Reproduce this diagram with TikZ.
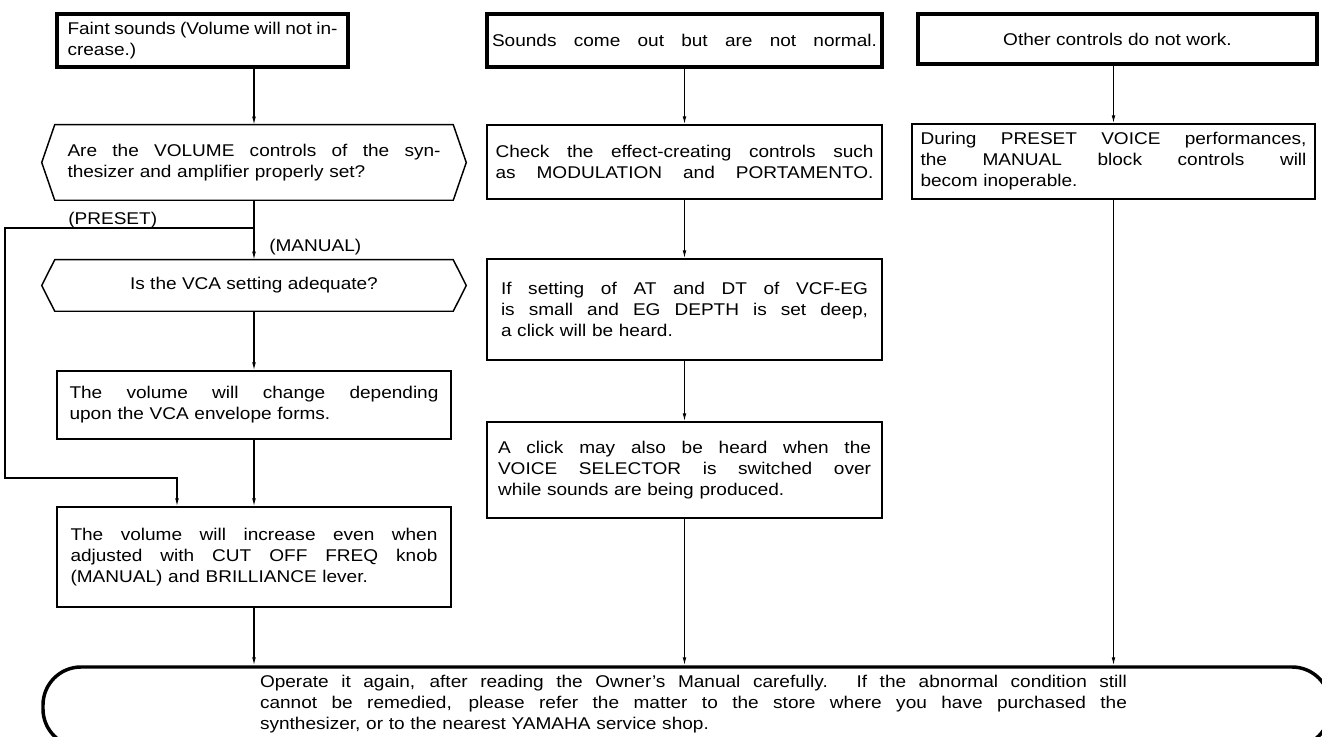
\documentclass[tikz,border=0pt]{standalone}
\usepackage{fontspec}
\setmainfont{Liberation Sans}[FakeStretch=1.12]
\usetikzlibrary{arrows.meta,calc}
\newcommand\jl[1]{{\spaceskip=0pt\xspaceskip=0pt\relax\makebox[\hsize][s]{#1}}}
\begin{document}
\begin{tikzpicture}[x=0.75pt,y=-0.75pt,
  every node/.style={inner sep=0pt, font=\fontsize{12.75pt}{15.75pt}\selectfont},
  thickbox/.style={draw, line width=3pt},
  plainbox/.style={draw, line width=1.1pt},
  conn/.style={line width=0.8pt, -{Latex[length=6pt,width=2.8pt]}},
  link/.style={line width=0.8pt},
  lbl/.style={anchor=west}]
\path[use as bounding box, fill=white] (0,0) rectangle (1322,737);

% column 1
\node[thickbox, minimum width=218.25pt, minimum height=39.75pt, text width=202.5pt, align=left] (a1) at (202.5,40.5)
  {\jl{Faint sounds (Volume will not in-}\\crease.)};
\node[minimum width=298.5pt, minimum height=56.25pt, text width=279.75pt, align=left] (hex1) at (254,162.5)
  {\jl{Are the VOLUME controls of the syn-}\\thesizer and amplifier properly set?};
\draw[plainbox] (hex1.north west) -- (hex1.north east) -- ($(hex1.east)+(13,0)$) -- (hex1.south east)
  -- (hex1.south west) -- ($(hex1.west)+(-13,0)$) -- cycle;
\node[minimum width=298.5pt, minimum height=38.25pt, align=center] (hex2) at (254,285.5)
  {Is the VCA setting adequate?};
\draw[plainbox] (hex2.north west) -- (hex2.north east) -- ($(hex2.east)+(13,0)$) -- (hex2.south east)
  -- (hex2.south west) -- ($(hex2.west)+(-13,0)$) -- cycle;
\node[plainbox, minimum width=295.5pt, minimum height=51pt, text width=276.75pt, align=left] (a3) at (254,405)
  {\jl{The volume will change depending}\\upon the VCA envelope forms.};
\node[plainbox, minimum width=295.5pt, minimum height=75pt, text width=275.25pt, align=left] (a4) at (254,557)
  {\jl{The volume will increase even when}\\\jl{adjusted with CUT OFF FREQ knob}\\(MANUAL) and BRILLIANCE lever.};
\node[lbl] (preset) at (68,220) {(PRESET)};
\node[lbl] (manual) at (269,247) {(MANUAL)};

% column 2
\node[thickbox, minimum width=296.25pt, minimum height=39.75pt, text width=288.75pt, align=left] (b1) at (684.5,40.5)
  {\jl{Sounds come out but are not normal.}};
\node[plainbox, minimum width=296.25pt, minimum height=55.5pt, text width=283.5pt, align=left] (b2) at (684.5,162)
  {\jl{Check the effect-creating controls such}\\\jl{as MODULATION and PORTAMENTO.}};
\node[plainbox, minimum width=296.25pt, minimum height=75.75pt, text width=275.25pt, align=left] (b3) at (684.5,309.5)
  {\jl{If setting of AT and DT of VCF-EG}\\\jl{is small and EG DEPTH is set deep,}\\a click will be heard.};
\node[plainbox, minimum width=296.25pt, minimum height=72pt, text width=279.75pt, align=left] (b4) at (684.5,470)
  {\jl{A click may also be heard when the}\\\jl{VOICE SELECTOR is switched over}\\while sounds are being produced.};

% column 3
\node[thickbox, minimum width=299.25pt, minimum height=37.5pt, align=center] (c1) at (1117.5,39)
  {Other controls do not work.};
\node[plainbox, minimum width=302.25pt, minimum height=56.25pt, text width=289.5pt, align=left] (c2) at (1113.5,161.5)
  {\jl{During PRESET VOICE performances,}\\\jl{the MANUAL block controls will}\\becom inoperable.};

% terminal
\node[draw, line width=2.6pt, rounded corners=28.5pt, minimum width=965.25pt, minimum height=60pt] (term) at (686.5,707) {};
\node[text width=650.25pt, align=left] (termtext) at (693.5,704)
  {\jl{Operate it again, after reading the Owner's Manual carefully. If the abnormal condition still}\\
   \jl{cannot be remedied, please refer the matter to the store where you have purchased the}\\
   synthesizer, or to the nearest YAMAHA service shop.};

% connectors column 1
\draw[conn] (hex1.north |- a1.south) -- (hex1.north);
\draw[conn] (hex1.south) -- (hex2.north);
\coordinate (pa) at (5,228);
\coordinate (pb) at (5,478);
\coordinate (pc) at (177,478);
\draw[conn] (hex1.south |- pa) -- (pa) -- (pb) -- (pc) -- (pc |- a4.north);
\draw[conn] (hex2.south) -- (a3.north);
\draw[conn] (a3.south) -- (a4.north);
\draw[conn] (a4.south) -- (a4.south |- term.north);

% connectors column 2
\draw[conn] (b1.south) -- (b2.north);
\draw[conn] (b2.south) -- (b3.north);
\draw[conn] (b3.south) -- (b4.north);
\draw[conn] (b4.south) -- (b4.south |- term.north);

% connectors column 3
\draw[conn] (c2.north |- c1.south) -- (c2.north);
\draw[conn] (c2.south) -- (c2.south |- term.north);
\end{tikzpicture}
\end{document}
